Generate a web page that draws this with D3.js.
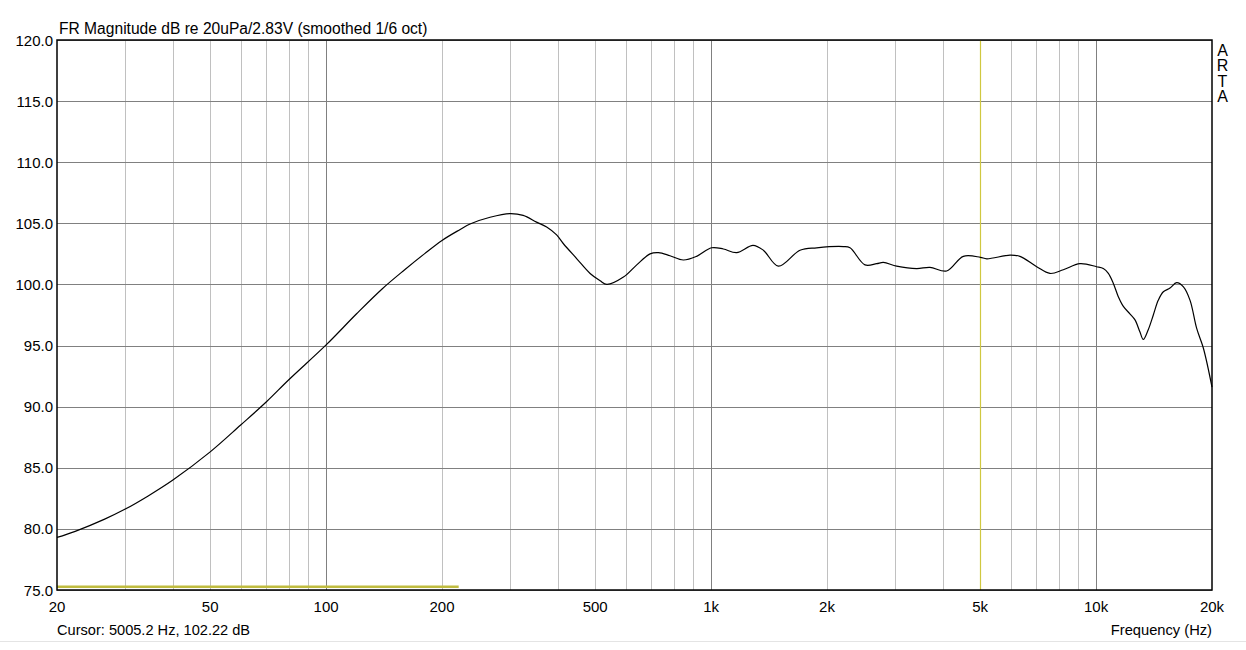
<!DOCTYPE html>
<html>
<head>
<meta charset="utf-8">
<script src="https://cdn.jsdelivr.net/npm/d3@7"></script>
<style>
  body { margin: 0; background: #fff; }
  text { font-family: "Liberation Sans", Arial, sans-serif; fill: #000; }
</style>
</head>
<body>
<svg id="chart"></svg>
<script>
const freqs = [20, 22.3, 26.6, 30, 34.5, 40, 50, 60, 70, 80, 100, 120, 140, 160, 180, 200, 223,
  236.5, 266.6, 300, 325, 352, 374, 397, 413, 448, 485, 515, 536, 592, 641, 694, 730, 782, 847, 917,
  1003, 1076, 1165, 1285, 1367, 1495, 1702, 1880, 2205, 2295, 2510, 2692, 2802, 3033, 3419, 3702,
  4090, 4520, 5005, 5200, 5975, 6340, 7010, 7590, 8220, 9080, 10030, 10440, 10760, 11080, 11420,
  11770, 12240, 12620, 13000, 13260, 13660, 14080, 14500, 14950, 15560, 16190, 16860, 17540,
  18250, 18990, 20000];
const magnitude = [79.3, 79.8, 80.8, 81.6, 82.7, 84.0, 86.3, 88.5, 90.4, 92.2, 95.05, 97.6, 99.65, 101.2, 102.5, 103.6, 104.5,
  104.95, 105.5, 105.8, 105.65, 105.1, 104.7, 104.05, 103.35, 102.1, 100.9, 100.3, 100.0, 100.6, 101.6, 102.5, 102.6, 102.35, 102.0, 102.3,
  103.0, 102.9, 102.6, 103.2, 102.8, 101.5, 102.8, 103.0, 103.1, 103.0, 101.6, 101.7, 101.8, 101.5, 101.3, 101.4,
  101.1, 102.3, 102.22, 102.1, 102.4, 102.3, 101.45, 100.9, 101.2, 101.7, 101.45, 101.3, 100.9, 100.1, 99.0,
  98.2, 97.6, 97.1, 96.1, 95.5, 96.3, 97.5, 98.7, 99.4, 99.7, 100.15, 99.8, 98.7,
  96.4, 94.8, 91.6];

const xTicks = [20, 50, 100, 200, 500, 1000, 2000, 5000, 10000, 20000];
const xTickLabels = ["20", "50", "100", "200", "500", "1k", "2k", "5k", "10k", "20k"];
const minorGrid = [30, 40, 50, 60, 70, 80, 90, 200, 300, 400, 500, 600, 700, 800, 900,
  2000, 3000, 4000, 5000, 6000, 7000, 8000, 9000];
const decadeGrid = [100, 1000, 10000];
const yTicks = [75, 80, 85, 90, 95, 100, 105, 110, 115, 120];

const cursorFreq = 5005.2;
const cursorDb = 102.22;
const levelBar = [20, 221];
const levelBarDb = 75.27;

const W = 1246, H = 650;
const margin = { top: 40, right: 34, bottom: 60, left: 57 };

const svg = d3.select("#chart").attr("width", W).attr("height", H);
svg.append("rect").attr("width", W).attr("height", H).attr("fill", "#fff");

const x = d3.scaleLog().domain([20, 20000]).range([margin.left, W - margin.right]);
const y = d3.scaleLinear().domain([75, 120]).range([H - margin.bottom, margin.top]);

const g = svg.append("g");

// vertical grid
g.selectAll(".minor").data(minorGrid).join("line")
  .attr("x1", d => Math.round(x(d)) + 0.5).attr("x2", d => Math.round(x(d)) + 0.5)
  .attr("y1", y(120)).attr("y2", y(75))
  .attr("stroke", "#c0c0c0").attr("stroke-width", 1);
g.selectAll(".decade").data(decadeGrid).join("line")
  .attr("x1", d => Math.round(x(d)) + 0.5).attr("x2", d => Math.round(x(d)) + 0.5)
  .attr("y1", y(120)).attr("y2", y(75))
  .attr("stroke", "#808080").attr("stroke-width", 1);

// horizontal grid
g.selectAll(".hgrid").data(yTicks).join("line")
  .attr("x1", x(20)).attr("x2", x(20000))
  .attr("y1", d => Math.round(y(d)) + 0.5).attr("y2", d => Math.round(y(d)) + 0.5)
  .attr("stroke", "#808080").attr("stroke-width", 1);

// cursor
g.append("line")
  .attr("x1", Math.round(x(cursorFreq)) + 0.5).attr("x2", Math.round(x(cursorFreq)) + 0.5)
  .attr("y1", y(120)).attr("y2", y(75))
  .attr("stroke", "#d0c840").attr("stroke-width", 1.2);

g.append("line")
  .attr("x1", x(levelBar[0])).attr("x2", x(levelBar[1]))
  .attr("y1", y(levelBarDb)).attr("y2", y(levelBarDb))
  .attr("stroke", "#c0bc40").attr("stroke-width", 2.5);

// response curve
const line = d3.line()
  .x((d, i) => x(freqs[i]))
  .y(d => y(d))
  .curve(d3.curveCatmullRom.alpha(0.5));

g.append("path")
  .datum(magnitude)
  .attr("fill", "none")
  .attr("stroke", "#000")
  .attr("stroke-width", 1.2)
  .attr("d", line);

// frame
g.append("rect")
  .attr("x", x(20)).attr("y", y(120))
  .attr("width", x(20000) - x(20)).attr("height", y(75) - y(120))
  .attr("fill", "none").attr("stroke", "#000").attr("stroke-width", 1.5);

// y labels
g.selectAll(".ylab").data(yTicks).join("text")
  .attr("x", margin.left - 4).attr("y", d => y(d) + 5.5)
  .attr("text-anchor", "end").attr("font-size", 15)
  .text(d => d.toFixed(1));

// x labels
g.selectAll(".xlab").data(xTicks).join("text")
  .attr("x", d => x(d)).attr("y", H - margin.bottom + 22)
  .attr("text-anchor", "middle").attr("font-size", 15)
  .text((d, i) => xTickLabels[i]);

svg.append("text").attr("x", 59).attr("y", 34).attr("font-size", 15.6)
  .text("FR Magnitude dB re 20uPa/2.83V (smoothed 1/6 oct)");

svg.append("text").attr("x", 57).attr("y", 635).attr("font-size", 14.6)
  .text(`Cursor: ${cursorFreq} Hz, ${cursorDb} dB`);

svg.append("text").attr("x", x(20000)).attr("y", 635).attr("font-size", 14.7)
  .attr("text-anchor", "end").text("Frequency (Hz)");

svg.selectAll(".arta").data(["A", "R", "T", "A"]).join("text")
  .attr("x", 1222.5).attr("y", (d, i) => 56 + i * 15.3)
  .attr("text-anchor", "middle").attr("font-size", 16)
  .text(d => d);

svg.append("line").attr("x1", 0).attr("x2", W).attr("y1", 641.5).attr("y2", 641.5)
  .attr("stroke", "#e4e4e4").attr("stroke-width", 1);
</script>
</body>
</html>
